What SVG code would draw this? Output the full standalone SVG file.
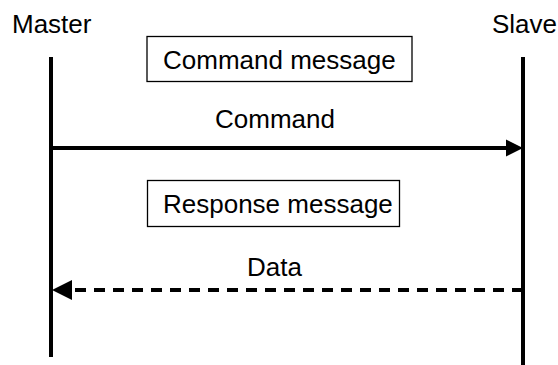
<svg xmlns="http://www.w3.org/2000/svg" width="558" height="365" viewBox="0 0 558 365">
<style>
text{font-family:"Liberation Sans",Arial,sans-serif;font-size:26px;fill:#000}
.life{stroke:#000;stroke-width:4;fill:none}
.box{fill:#fff;stroke:#000;stroke-width:1.3}
.msg{stroke:#000;stroke-width:4;fill:none}
.dash{stroke-dasharray:11 8}
</style>
<rect width="558" height="365" fill="#fff"/>
<g id="master">
<text x="12" y="33">Master</text>
<line class="life" x1="51" y1="57" x2="51" y2="357"/>
</g>
<g id="slave">
<text x="492" y="33">Slave</text>
<line class="life" x1="523" y1="57" x2="523" y2="365"/>
</g>
<g id="command-message">
<rect class="box" x="147" y="36.5" width="265" height="45"/>
<text x="163" y="69">Command message</text>
</g>
<g id="response-message">
<rect class="box" x="147.5" y="180.5" width="252" height="46"/>
<text x="163" y="213">Response message</text>
</g>
<g id="connectors">
<line class="msg" x1="51" y1="148" x2="508" y2="148"/>
<polygon points="523,148 506,139.5 506,156.5" fill="#000"/>
<text x="215" y="128">Command</text>
<line class="msg dash" x1="523" y1="290" x2="70" y2="290"/>
<polygon points="52,290 72,280 72,300" fill="#000"/>
<text x="247" y="276">Data</text>
</g>
</svg>
